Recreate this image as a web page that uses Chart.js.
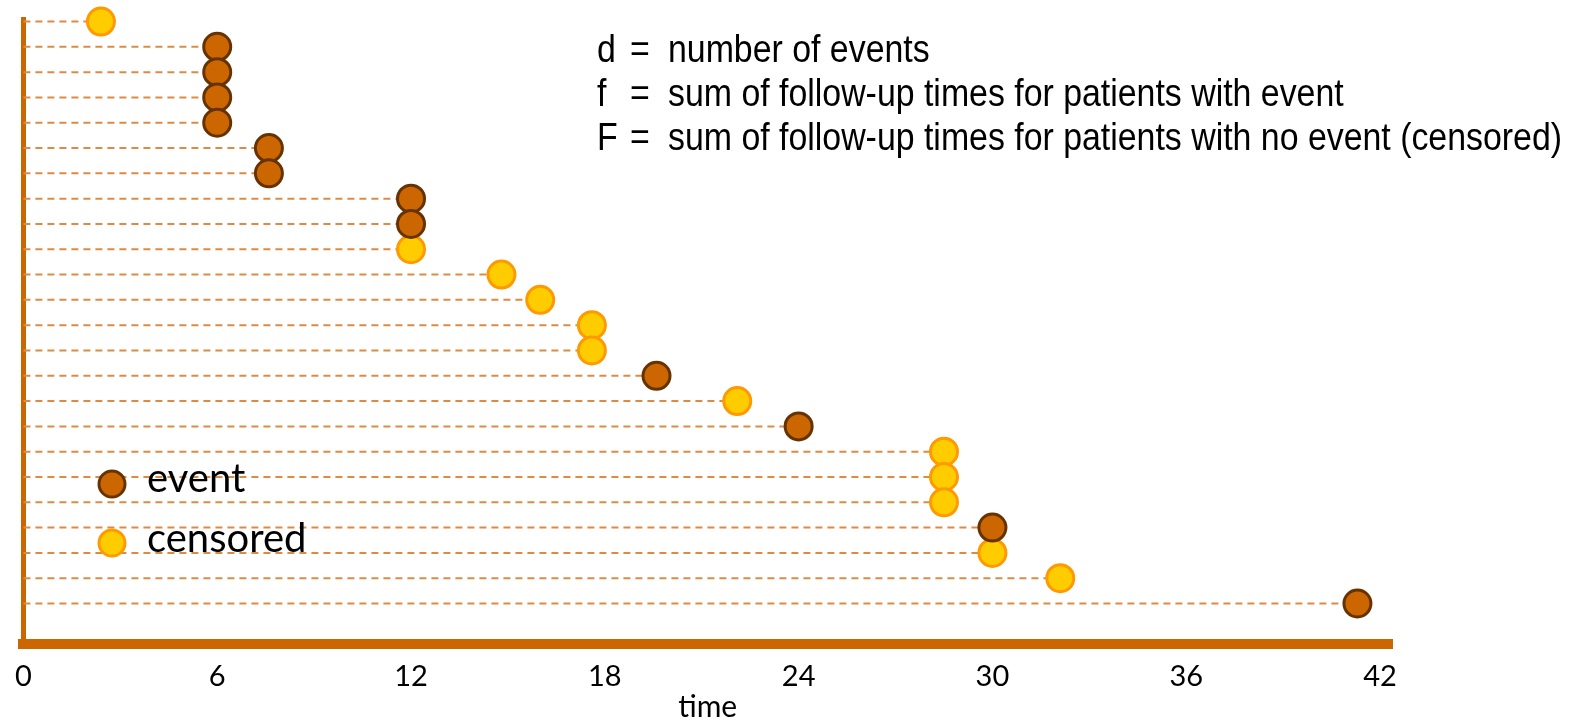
<!DOCTYPE html>
<html>
<head>
<meta charset="utf-8">
<script src="https://cdn.jsdelivr.net/npm/chart.js@4/dist/chart.umd.min.js"></script>
<style>
html,body{margin:0;padding:0;background:#fff;}
#wrap{width:1570px;height:721px;}
</style>
</head>
<body>
<div id="wrap"><canvas id="followup"></canvas></div>
<script>
'use strict';
// follow-up time of each patient, top row first
const times = [2.4, 6, 6, 6, 6, 7.6, 7.6, 12, 12, 12, 14.8, 16, 17.6, 17.6, 19.6, 22.1, 24, 28.5, 28.5, 28.5, 30, 30, 32.1, 41.3];
const outcome = ['censored','event','event','event','event','event','event','event','event','censored','censored','censored','censored','censored','event','censored','event','censored','censored','censored','event','censored','censored','event'];
const tickValues = [0, 6, 12, 18, 24, 30, 36, 42];
const notes = [['d', 'number of events'], ['f', 'sum of follow-up times for patients with event'], ['F', 'sum of follow-up times for patients with no event (censored)']];

const eventFill = '#cc6600', eventBorder = '#663300';
const censFill = '#ffcc00', censBorder = '#ff9900';

const rows = times.map((t, i) => ({x: t, y: i + 1}));
const eventPts = rows.filter((p, i) => outcome[i] === 'event');
const censPts = rows.filter((p, i) => outcome[i] === 'censored');

let datasets = [
  {type:'scatter', label:'event', data:eventPts, backgroundColor:eventFill, borderColor:eventBorder, borderWidth:3, pointRadius:13.5, pointHoverRadius:13.5, order:0, clip:false},
  {type:'scatter', label:'censored', data:censPts, backgroundColor:censFill, borderColor:censBorder, borderWidth:3, pointRadius:13.5, pointHoverRadius:13.5, order:0, clip:false}
];
rows.forEach(p => {
  datasets.push({type:'line', data:[{x:0, y:p.y}, {x:p.x, y:p.y}], borderColor:'#dd8a45', borderWidth:2, borderDash:[7,5], pointRadius:0, fill:false, order:1, clip:false});
});

const notesPlugin = {
  id: 'notes',
  afterDatasetsDraw(chart) {
    const ctx = chart.ctx;
    ctx.save();
    // legend
    const items = [['event', eventFill, eventBorder, 484, 492], ['censored', censFill, censBorder, 543, 552]];
    items.forEach(it => {
      ctx.beginPath();
      ctx.arc(112, it[3], 13, 0, Math.PI * 2);
      ctx.fillStyle = it[1];
      ctx.fill();
      ctx.lineWidth = 3;
      ctx.strokeStyle = it[2];
      ctx.stroke();
      ctx.fillStyle = '#000';
      ctx.font = '40px Lato';
      ctx.textBaseline = 'alphabetic';
      ctx.fillText(it[0], 147, it[4]);
    });
    // definitions, condensed to the width of the longest line
    ctx.font = '38px "Liberation Sans Narrow", "Arial Narrow", "Liberation Sans", sans-serif';
    const w = ctx.measureText(notes[2][1]).width;
    const sx = 894 / w;
    notes.forEach((n, i) => {
      const y = 62 + i * 44;
      ctx.save();
      ctx.translate(597, y);
      ctx.scale(sx, 1);
      ctx.fillText(n[0], 0, 0);
      ctx.fillText('=', 33 / sx, 0);
      ctx.fillText(n[1], 71 / sx, 0);
      ctx.restore();
    });
    ctx.restore();
  }
};

new Chart(document.getElementById('followup'), {
  data: {datasets: datasets},
  options: {
    responsive: true,
    maintainAspectRatio: false,
    animation: false,
    layout: {padding: {left:21, right:178, top:19, bottom:0}},
    plugins: {legend:{display:false}, tooltip:{enabled:false}},
    scales: {
      x: {
        type:'linear', min:0, max:42.37,
        afterFit: s => { s.height = 77; },
        afterBuildTicks: s => { s.ticks = tickValues.map(v => ({value:v})); },
        grid:{display:false, drawTicks:false},
        border:{color:'#cc6600', width:10},
        ticks:{color:'#000', font:{family:'Lato', size:29}, padding:15, includeBounds:false},
        title:{display:true, text:'time', color:'#000', font:{family:'Lato', size:30}, padding:{top:0, bottom:-4}}
      },
      y: {
        type:'linear', reverse:true, min:0.9, max:25.6,
        afterFit: s => { s.width = 0; },
        grid:{display:false, drawTicks:false},
        border:{color:'#cc6600', width:5},
        ticks:{display:false}
      }
    }
  },
  plugins: [notesPlugin]
});
</script>
</body>
</html>
